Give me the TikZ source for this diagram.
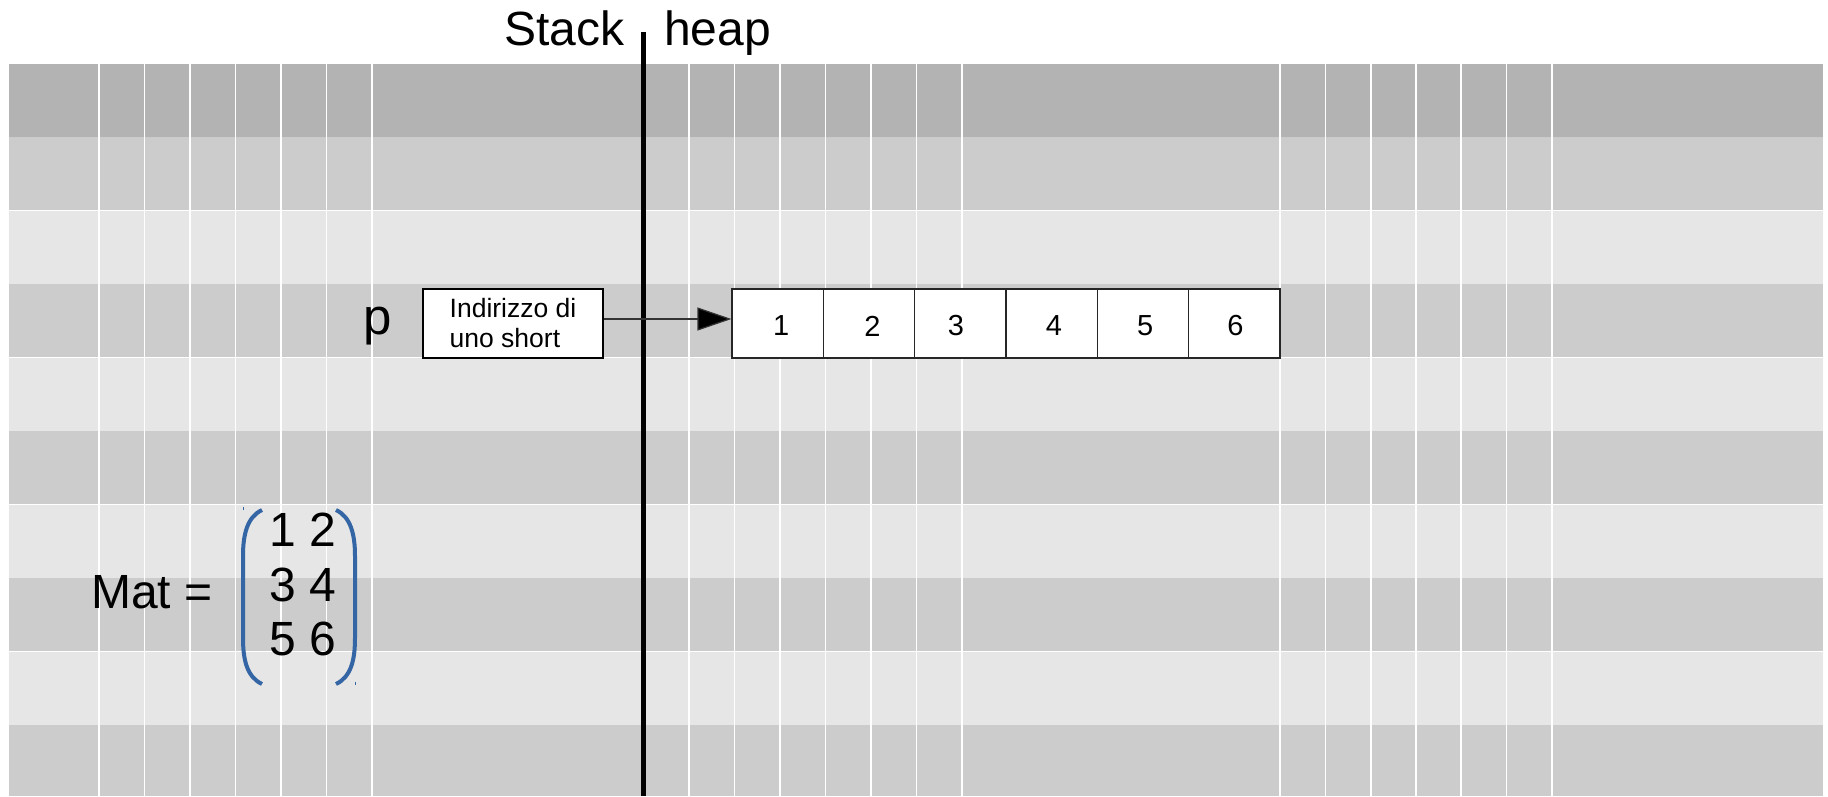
\documentclass[tikz,border=0pt]{standalone}
\usepackage{fontspec}
\setmainfont{Liberation Sans}
\usetikzlibrary{arrows.meta}
\definecolor{stripeA}{HTML}{B3B3B3}
\definecolor{stripeB}{HTML}{CCCCCC}
\definecolor{stripeC}{HTML}{E6E6E6}
\definecolor{parblue}{HTML}{3465A4}
\tikzset{
  bigtxt/.style={inner sep=0pt, anchor=base west, font=\fontsize{48}{58}\selectfont},
  ptrbox/.style={draw=black, fill=white, line width=1.2pt, minimum width=180pt, minimum height=69pt,
    inner sep=0pt, align=left, font=\fontsize{26.5}{30}\selectfont},
  cellbox/.style={draw=black!85, fill=white, line width=1.2pt, minimum width=91.33pt, minimum height=69pt,
    inner sep=0pt},
  celltxt/.style={inner sep=0pt, font=\fontsize{29}{34}\selectfont},
  gridline/.style={white, line width=1.1pt},
  paren/.style={parblue, line width=4pt}
}
\begin{document}
\begin{tikzpicture}[x=1pt,y=-1pt]
\useasboundingbox (0,0) rectangle (1828,796);
\fill[white] (0,0) rectangle (1828,796);
% stripes
\foreach \i/\c in {0/stripeA,1/stripeB,2/stripeC,3/stripeB,4/stripeC,5/stripeB,6/stripeC,7/stripeB,8/stripeC}
  \fill[\c] (9,{64+73.4*\i}) rectangle (1823,{64+73.4*(\i+1)});
\fill[stripeB] (9,724.6) rectangle (1823,796);
\foreach \i in {2,4,6,8}
  \draw[white, line width=0.8pt] (9,{64+73.4*\i}) -- (1823,{64+73.4*\i});
% vertical grid lines
\foreach \x in {99,144.5,190,235.5,281,326.5,372,689,734.5,780,825.5,871,916.5,962,1280,1325.5,1371,1416,1461,1506.5,1552}
  \draw[gridline] (\x,64) -- (\x,796);
% divider
\draw[line width=5pt] (643,32) -- (643,796);
% titles
\node[bigtxt] (stack) at (504,45) {Stack};
\node[bigtxt] (heap) at (664,45) {heap};
% pointer
\node[bigtxt, font=\fontsize{51}{60}\selectfont] (p) at (363,334) {p};
\node[ptrbox] (ptr) at (513,323.5) {Indirizzo di\\uno short};
\foreach \i in {1,...,6}
  \node[cellbox] (c\i) at ({732+91.33*(\i-0.5)},323.5) {};
\foreach \i/\dx in {1/3.5,2/3.5,3/-4.5,4/2.3,5/2.3,6/1.2}
  \node[celltxt] (t\i) at ([xshift=\dx pt, yshift=-2.5pt]c\i.center) {\i};
\draw[line width=1.2pt, black!80, -{Triangle[length=34pt,width=23pt,fill=black]}]
  ([yshift=4.5pt]ptr.east) -- ([yshift=4.5pt]c1.west);
% matrix
\node[bigtxt] (mat) at (91,608) {Mat =};
\node[bigtxt] (r1) at (269,546.7) {1 2};
\node[bigtxt] (r2) at (269,601.7) {3 4};
\node[bigtxt] (r3) at (269,655) {5 6};
\draw[paren] (262,510) .. controls (247,517) and (243,535) .. (243,556) -- (243,638)
  .. controls (243,660) and (247,677) .. (262,684);
\draw[paren] (336,510) .. controls (351,517) and (355,535) .. (355,556) -- (355,638)
  .. controls (355,660) and (351,677) .. (336,684);
\draw[parblue, line width=1pt] (243.5,507) -- (243.5,510);
\draw[parblue, line width=1pt] (355.5,682) -- (355.5,685);
\end{tikzpicture}
\end{document}
